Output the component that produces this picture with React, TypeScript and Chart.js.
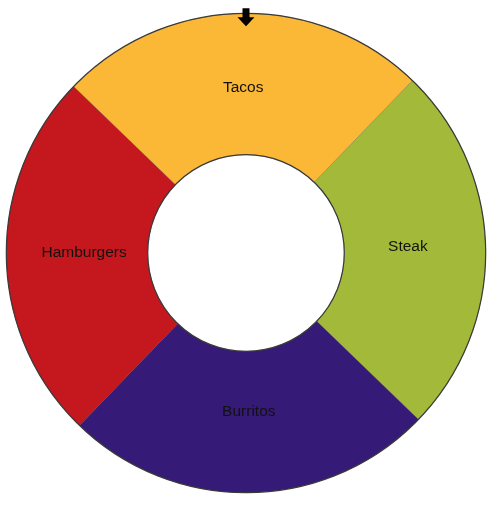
import React, { useEffect, useRef } from "react";
import { Chart, registerables } from "chart.js";

Chart.register(...registerables);

const categories = ["Tacos", "Steak", "Burritos", "Hamburgers"];
const values = [25, 25, 25, 25];
const colors = ["#FBB836", "#A3B93A", "#361A78", "#C4181E"];

const decorPlugin = {
  id: "decor",
  afterDatasetsDraw(chart: any) {
    const meta = chart.getDatasetMeta(0);
    const arcs = meta.data;
    if (!arcs.length) return;
    const { x, y, outerRadius, innerRadius } = arcs[0].getProps(
      ["x", "y", "outerRadius", "innerRadius"],
      true
    );
    const ctx = chart.ctx;
    ctx.save();
    ctx.strokeStyle = "#3a3a3a";
    ctx.lineWidth = 1.2;
    ctx.beginPath();
    ctx.arc(x, y, outerRadius, 0, Math.PI * 2);
    ctx.stroke();
    ctx.beginPath();
    ctx.arc(x, y, innerRadius, 0, Math.PI * 2);
    ctx.stroke();

    // labels
    ctx.fillStyle = "#111";
    ctx.font = "15.5px 'Liberation Sans', Arial, sans-serif";
    ctx.textAlign = "center";
    ctx.textBaseline = "middle";
    const r = innerRadius + (outerRadius - innerRadius) * 0.45;
    arcs.forEach((arc: any, i: number) => {
      const { startAngle, endAngle } = arc.getProps(["startAngle", "endAngle"], true);
      const mid = (startAngle + endAngle) / 2;
      ctx.fillText(categories[i], x + Math.cos(mid) * r, y + Math.sin(mid) * r - 3.5);
    });

    // pointer arrow
    const top = y - outerRadius;
    ctx.fillStyle = "#000";
    ctx.beginPath();
    ctx.moveTo(x - 3.5, top - 5);
    ctx.lineTo(x + 3.5, top - 5);
    ctx.lineTo(x + 3.5, top + 4);
    ctx.lineTo(x + 8.5, top + 4);
    ctx.lineTo(x, top + 13);
    ctx.lineTo(x - 8.5, top + 4);
    ctx.lineTo(x - 3.5, top + 4);
    ctx.closePath();
    ctx.fill();
    ctx.restore();
  },
};

export default function App() {
  const ref = useRef<HTMLCanvasElement | null>(null);
  useEffect(() => {
    if (!ref.current) return;
    const chart = new Chart(ref.current, {
      type: "doughnut",
      data: {
        labels: categories,
        datasets: [
          {
            data: values,
            backgroundColor: colors,
            borderColor: "rgba(0,0,0,0.25)",
            borderWidth: 0.6,
          },
        ],
      },
      options: {
        animation: false,
        responsive: true,
        maintainAspectRatio: false,
        rotation: -46,
        cutout: "41%",
        layout: { padding: { left: 6, right: 13, top: 12, bottom: 18 } },
        plugins: {
          legend: { display: false },
          tooltip: { enabled: false },
        },
      },
      plugins: [decorPlugin],
    });
    return () => chart.destroy();
  }, []);
  return (
    <div style={{ position: "absolute", left: 0, top: 0, width: 499, height: 512 }}>
      <canvas ref={ref} />
    </div>
  );
}
